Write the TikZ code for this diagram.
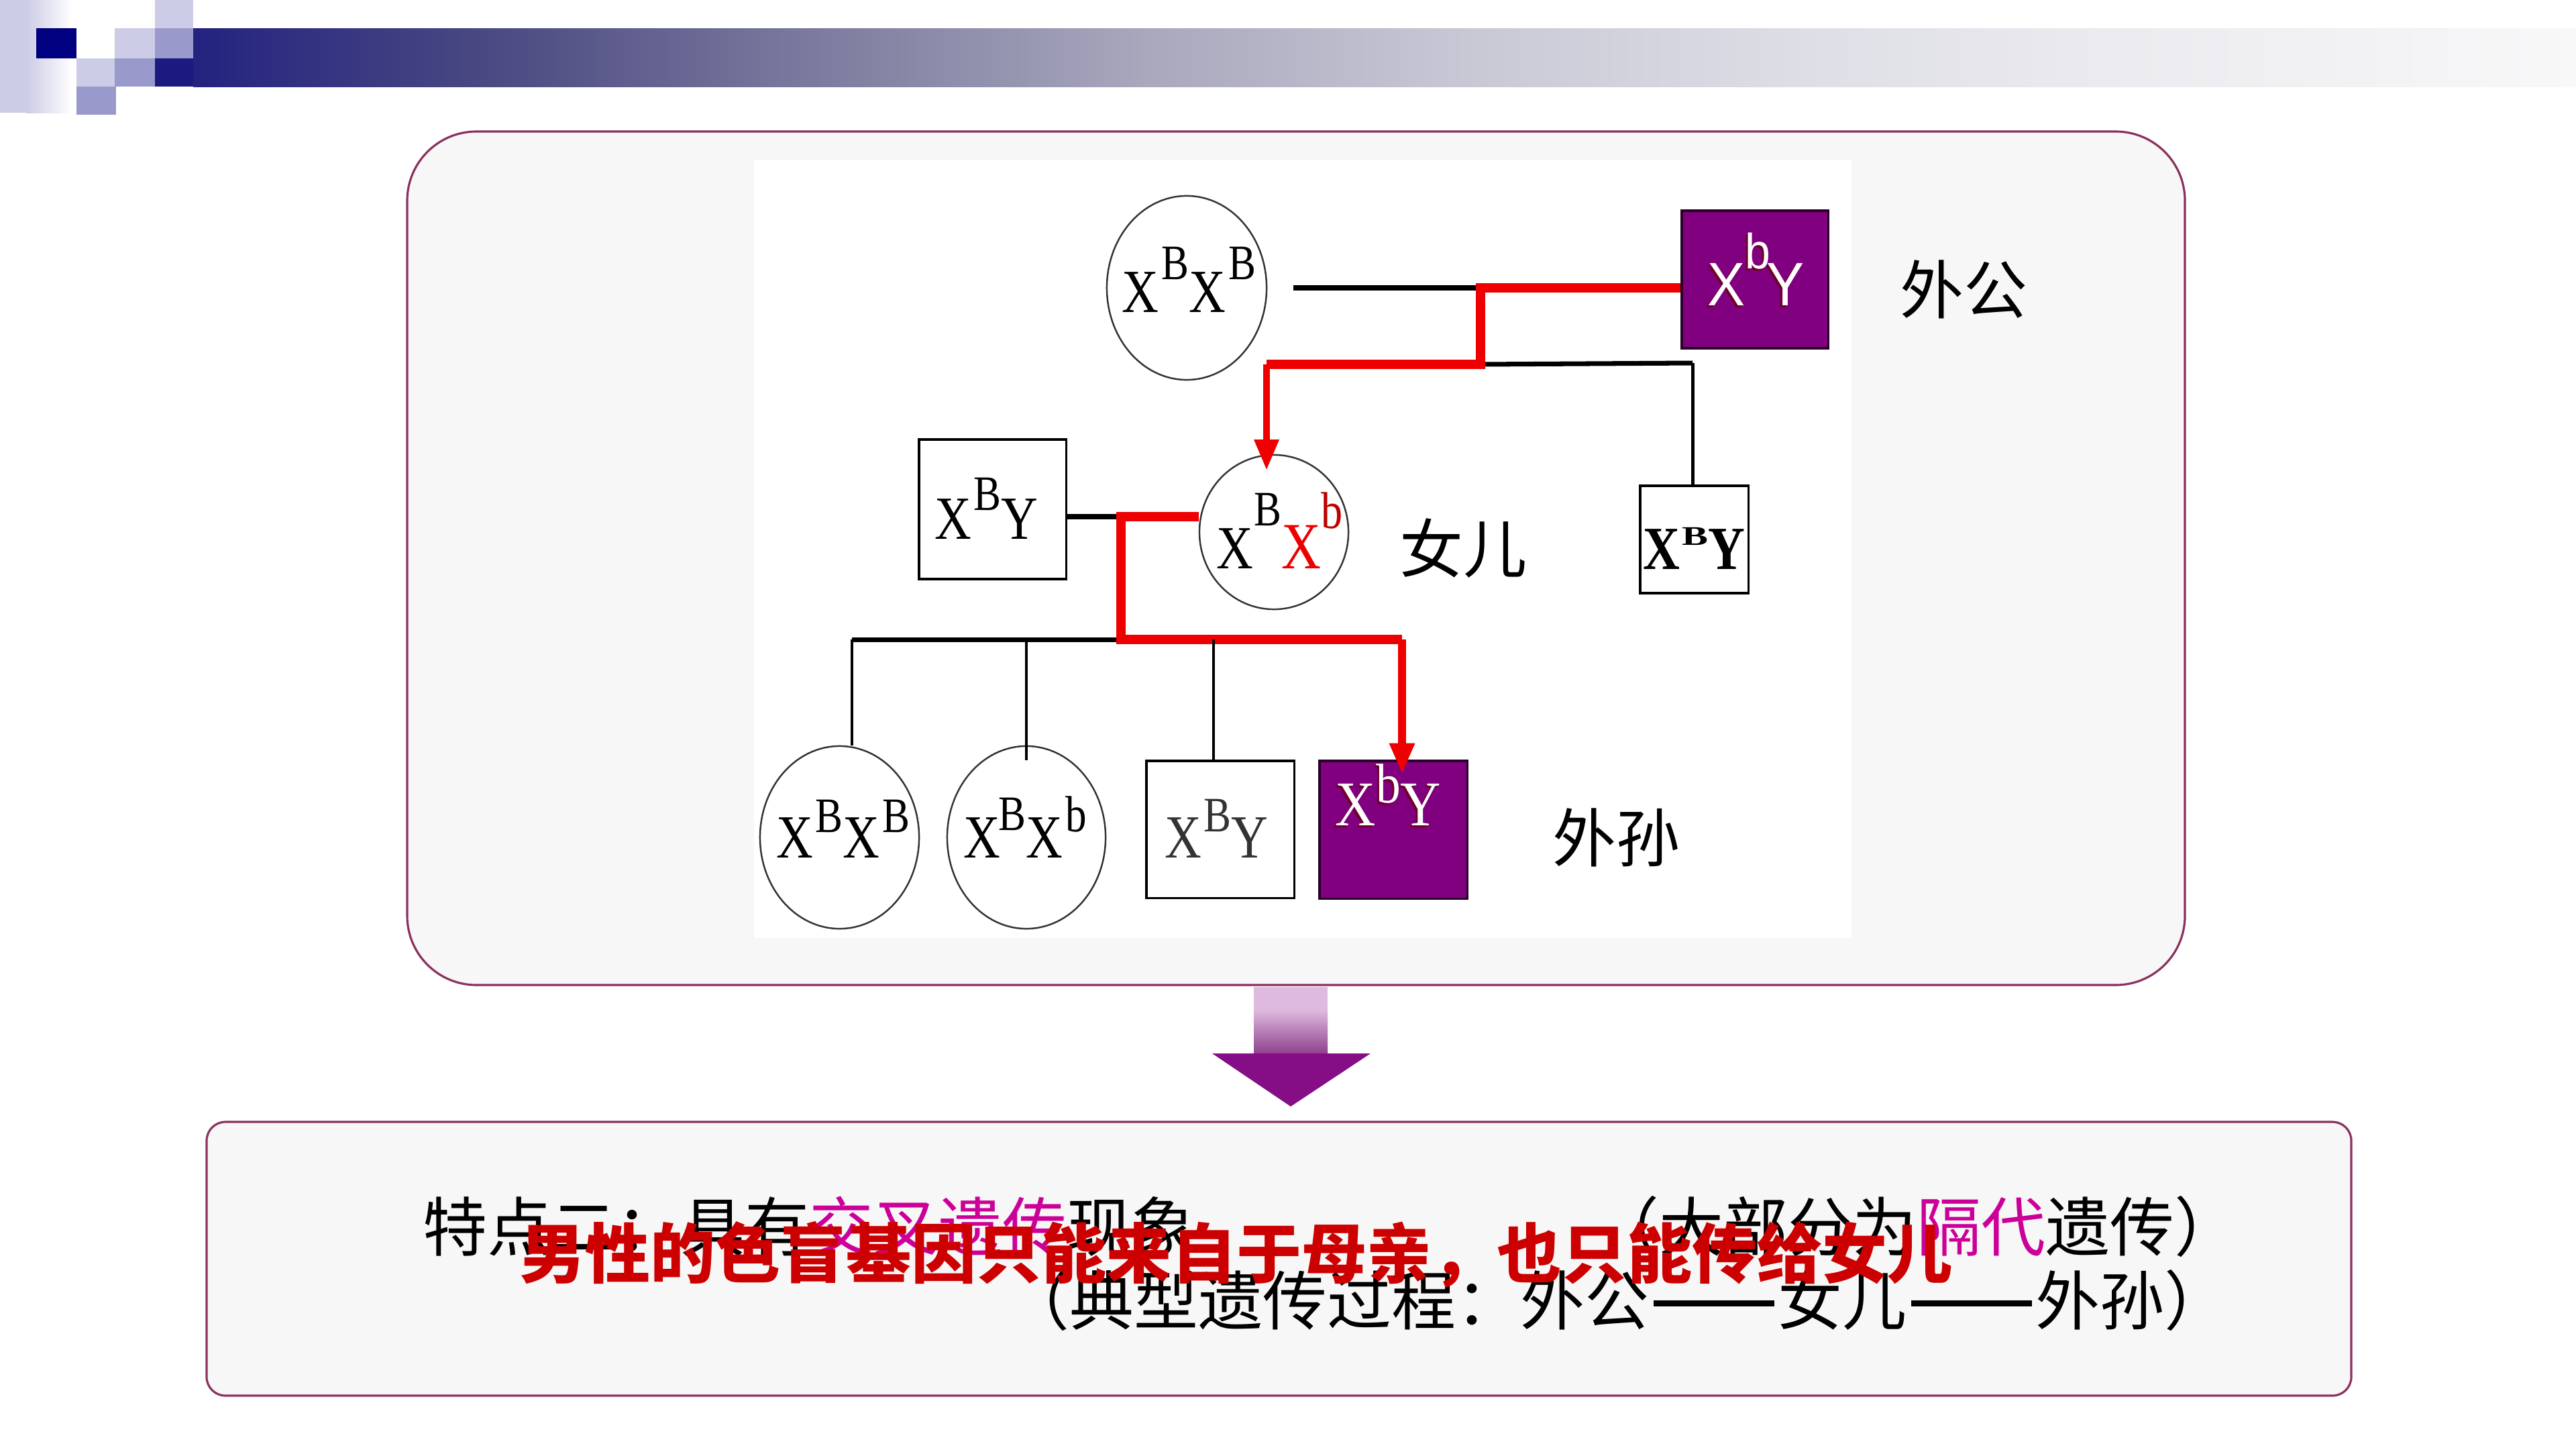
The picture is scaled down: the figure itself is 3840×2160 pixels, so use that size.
\documentclass[tikz,border=0pt]{standalone}
\usepackage{fontspec}
\usepackage{graphicx}
\setmainfont{Liberation Serif}
\newfontfamily\cjk{Noto Sans CJK SC}
\newfontfamily\gsans{Liberation Sans}
\usetikzlibrary{shapes.geometric,arrows.meta,calc}
\definecolor{bordr}{RGB}{139,48,96}
\definecolor{panel}{RGB}{247,247,247}
\definecolor{purp}{RGB}{128,0,128}
\definecolor{mag}{RGB}{204,0,153}
\definecolor{redtxt}{RGB}{204,0,0}
\definecolor{pedred}{RGB}{238,0,0}
\definecolor{lav}{RGB}{204,204,230}
\definecolor{lavm}{RGB}{153,153,204}
\definecolor{navy}{RGB}{0,0,128}
\definecolor{hnavy}{RGB}{26,26,128}
\definecolor{hb0}{RGB}{35,35,128}
\definecolor{hb1}{RGB}{75,74,130}
\definecolor{hb2}{RGB}{125,124,159}
\definecolor{hb3}{RGB}{169,168,189}
\definecolor{hb4}{RGB}{201,201,214}
\definecolor{hb5}{RGB}{222,222,230}
\definecolor{hb6}{RGB}{236,236,240}
\definecolor{hb7}{RGB}{248,248,249}
\definecolor{arrlight}{RGB}{222,186,222}
\definecolor{arrmid}{RGB}{140,62,140}
\definecolor{arrhead}{RGB}{133,13,133}
\definecolor{shadowc}{RGB}{110,0,40}
\newcommand\gfont{\fontsize{26}{26}\selectfont}
\newcommand\up[3]{\raisebox{#1}{\fontsize{#2}{#2}\selectfont #3}}
\newcommand\cond[2][0.83]{\scalebox{#1}[1]{#2}}
\newcommand\ddash{\kern0.06em\rule[7.6pt]{1.88em}{2.7pt}\kern0.06em}
\begin{document}
\begin{tikzpicture}[x=0.01cm,y=-0.01cm,
  gt/.style={anchor=base west,inner sep=0pt,font=\gfont},
  lt/.style={anchor=base west,inner sep=0pt,font=\cjk\fontsize{27.3}{30}\selectfont},
  lbl/.style={anchor=base west,inner sep=0pt,font=\cjk\fontsize{27}{30}\selectfont},
  fem/.style={ellipse,draw=black!80,line width=0.7pt,fill=white,inner sep=0pt},
  mal/.style={rectangle,draw=black,line width=0.9pt,fill=white,inner sep=0pt},
  aff/.style={rectangle,draw={rgb,255:red,40;green,0;blue,40},line width=0.9pt,fill=purp,inner sep=0pt},
  blk/.style={black,line width=2pt},
  blkv/.style={black,line width=1.4pt},
  redt/.style={pedred,line width=4.2pt},
  reda/.style={pedred,line width=#1,-{Triangle[length=13pt,width=10pt]}},
]
\useasboundingbox (0,0) rectangle (3840,2160);
\fill[white] (0,0) rectangle (3840,2160);
% header decoration
\fill[lav] (0,0) rectangle (40,168);
\shade[left color=lav,right color=white] (39,0) rectangle (108,168);
\fill[navy] (54,42) rectangle (114,87);
\fill[lav] (114,87) rectangle (173,129);
\fill[lavm] (114,129) rectangle (173,171);
\fill[lav] (171,42) rectangle (231,87);
\fill[lavm] (171,87) rectangle (231,129);
\fill[lav] (231,0) rectangle (288,42);
\fill[lavm] (231,42) rectangle (288,87);
\fill[hnavy] (231,87) rectangle (289,129);
\shade[left color=hb0,right color=hb1] (288,42) rectangle (736,129);
\shade[left color=hb1,right color=hb2] (735,42) rectangle (1226,129);
\shade[left color=hb2,right color=hb3] (1225,42) rectangle (1715,129);
\shade[left color=hb3,right color=hb4] (1714,42) rectangle (2205,129);
\shade[left color=hb4,right color=hb5] (2204,42) rectangle (2695,129);
\shade[left color=hb5,right color=hb6] (2694,42) rectangle (3185,129);
\shade[left color=hb6,right color=hb7] (3184,42) rectangle (3840,129);
% panels
\draw[bordr,line width=0.9pt,fill=panel,rounded corners=1.03cm] (607,196) rectangle (3257,1468);
\fill[white] (1124,238) rectangle (2760,1398);
\fill[arrlight] (1869,1471) rectangle (1979,1506);
\shade[top color=arrlight,bottom color=arrmid] (1869,1505) rectangle (1979,1572);
\fill[arrhead] (1807,1570) -- (2043,1570) -- (1924,1649) -- cycle;
\draw[bordr,line width=0.9pt,fill=panel,rounded corners=0.28cm] (308,1672) rectangle (3505,2080);
% pedigree nodes
\node[fem,minimum width=2.38cm,minimum height=2.74cm] (gm) at (1769,429) {};
\node[aff,minimum width=2.18cm,minimum height=2.05cm] (gf) at (2616,416.5) {};
\node[mal,minimum width=1.61cm,minimum height=1.60cm] (un) at (2525.5,804) {};
\node[mal,minimum width=2.19cm,minimum height=2.08cm] (fa) at (1479.5,759) {};
\node[fem,minimum width=2.22cm,minimum height=2.30cm] (mo) at (1899,793) {};
\node[fem,minimum width=2.37cm,minimum height=2.72cm] (c1) at (1251.5,1248) {};
\node[fem,minimum width=2.36cm,minimum height=2.72cm] (c2) at (1530,1248) {};
\node[mal,minimum width=2.20cm,minimum height=2.04cm] (c3) at (1819,1236) {};
\node[aff,minimum width=2.20cm,minimum height=2.05cm] (c4) at (2077,1236.5) {};
% junctions
\coordinate (j1) at (2207,429);
\coordinate (j2) at (2207,543);
\coordinate (j3) at (1888,543);
\coordinate (j4) at (2523,541);
\coordinate (j5) at (1671,770);
\coordinate (j6) at (1671,953);
\coordinate (j7) at (1270,953);
\coordinate (j8) at (2090,953);
\coordinate (k2) at (1530,953);
\coordinate (k3) at (1809,953);
% connectors
\draw[blk] ([xshift=0.39cm]gm.east |- j1) -- (j1);
\draw[blk] (j2) -- (j4);
\draw[blkv] (j4) -- (j4 |- un.north);
\draw[redt,line join=miter] (j1 -| gf.west) -- (j1) -- (j2) -- (j3);
\draw[reda=2.6pt] (j3) -- ($(j3 |- mo.north)+(0,24)$);
\draw[blk] (fa.east |- j5) -- (j5);
\draw[blk] (j7) -- (j6);
\draw[redt,line join=miter] (j5 -| mo.west) -- (j5) -- (j6) -- (j8);
\draw[reda=3.5pt] (j8) -- ($(j8 |- c4.north)+(0,21)$);
\draw[blkv] (j7) -- (j7 |- c1.north);
\draw[blkv] (k2) -- ($(c2.north)+(0,22)$);
\draw[blkv] (k3) -- (k3 |- c3.north);
% genotype texts
\node[gt] (tgm) at (1672,465) {\cond{X\kern1.5pt\up{13.7pt}{21}{B}X\kern1.5pt\up{13.7pt}{21}{B}}};
\node[gt,text=shadowc] (tgfs) at (2542,458) {\gsans\cond[0.92]{X\up{15.4pt}{21}{b}\kern-2pt Y}};
\node[gt,text=white] (tgf) at (2545,455) {\gsans\cond[0.92]{X\up{15.4pt}{21}{b}\kern-2pt Y}};
\node[gt] (tfa) at (1393,803) {\cond{X\kern1pt\up{12pt}{21}{B}Y}};
\node[gt] (tmo) at (1813,847) {\cond{X\kern0.5pt\up{18pt}{21}{B}\textcolor{pedred}{\fontsize{28}{28}\selectfont X\textcolor{red!75!black}{\up{17pt}{22}{b}}}}};
\node[gt] (tun) at (2449,848) {\bfseries\cond{X\kern1pt\raisebox{10pt}{\scalebox{1}[0.57]{\fontsize{20}{20}\selectfont B}}Y}};
\node[gt] (tc1) at (1157,1278) {\cond{X\kern1pt\up{10.8pt}{21}{B}X\kern1.5pt\up{10.8pt}{21}{B}}};
\node[gt] (tc2) at (1436,1278) {\cond{X\kern-1pt\up{11.5pt}{21}{B}X\kern1.5pt\up{11pt}{21.6}{b}}};
\node[gt,text=black!80] (tc3) at (1736,1278) {\cond{X\kern1pt\up{11pt}{21}{B}Y}};
\node[gt,text=shadowc] (tc4s) at (1987,1233) {\cond[0.88]{\fontsize{27}{27}\selectfont X\up{9.4pt}{23.7}{b}Y}};
\node[gt,text=white] (tc4) at (1990,1230) {\cond[0.88]{\fontsize{27}{27}\selectfont X\up{9.4pt}{23.7}{b}Y}};
% generation labels
\node[lbl] (lgf) at (2832,467) {外公};
\node[lbl] (lmo) at (2086,853) {女儿};
\node[lbl] (lgs) at (2314,1284) {外孙};
% bottom text
\node[lt] (l1a) at (630,1864) {特点二：具有\textcolor{mag}{交叉遗传}现象};
\node[lt] (l1b) at (2377,1864) {（大部分为\textcolor{mag}{隔代}遗传）};
\node[lt] (l2) at (1498,1974) {（典型遗传过程：外公\ddash 女儿\ddash 外孙）};
\node[anchor=base west,inner sep=0pt,text=redtxt,font=\cjk\bfseries\fontsize{27.6}{30}\selectfont] (lred) at (775,1904) {男性的色盲基因只能来自于母亲，也只能传给女儿};
\end{tikzpicture}
\end{document}
